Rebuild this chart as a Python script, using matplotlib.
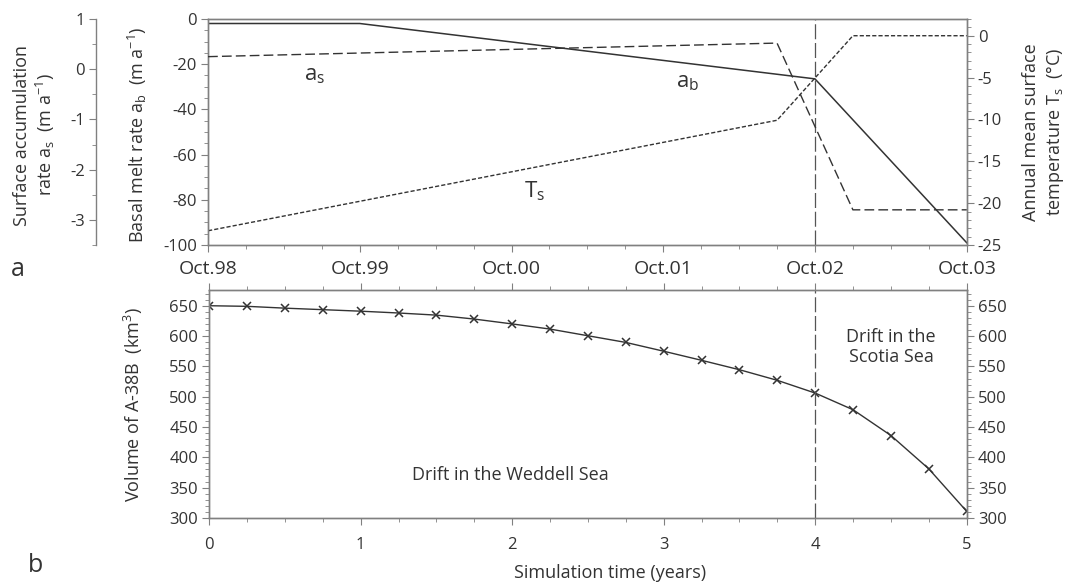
import matplotlib
matplotlib.use("Agg")
import matplotlib.pyplot as plt
from matplotlib.ticker import MultipleLocator
import numpy as np

plt.rcParams['font.family'] = ['Open Sans', 'DejaVu Sans']
plt.rcParams['axes.unicode_minus'] = False

# 1. Data
# top panel (years since Oct.98)
t_ab = [0, 1.0, 4.0, 5.0]
ab = [-2, -2, -26.5, -99]
t_as = [0, 3.75, 4.25, 5.0]
a_s = [0.25, 0.52, -2.8, -2.8]
t_ts = [0, 3.75, 4.25, 5.0]
ts = [-23.3, -10.1, 0, 0]
date_labels = ['Oct.98', 'Oct.99', 'Oct.00', 'Oct.01', 'Oct.02', 'Oct.03']

# bottom panel, quarterly steps
t_vol = [0, 0.25, 0.5, 0.75, 1.0, 1.25, 1.5, 1.75, 2.0, 2.25, 2.5,
         2.75, 3.0, 3.25, 3.5, 3.75, 4.0, 4.25, 4.5, 4.75, 5.0]
vol = [650, 649, 646, 643.5, 641, 638, 634.5, 628, 620, 611.5, 600.5,
       589.5, 575, 560, 544.5, 527, 506, 478.5, 436, 381, 311]
t_switch = 4.0

grey = '#808080'
ink = '#333333'

fig = plt.figure(figsize=(10.67, 5.84), dpi=100)

# 2. Top panel
ax_b = fig.add_axes([0.195, 0.5805, 0.711, 0.387])
ax_t = ax_b.twinx()
ax_s = ax_b.twinx()

ax_b.plot(t_ab, ab, color=ink, lw=1.1)
ax_s.plot(t_as, a_s, color=ink, lw=1.0, dashes=(7, 3))
ax_t.plot(t_ts, ts, color=ink, lw=1.0, dashes=(3, 1.5))
ax_b.axvline(t_switch, color='#555555', lw=0.9, dashes=(12, 3))

ax_b.set_xlim(0, 5)
ax_b.set_ylim(-100, 0)
ax_t.set_ylim(-25, 2)
ax_s.set_ylim(-3.5, 1)

ax_b.set_xticks(range(6))
ax_b.set_xticklabels(date_labels, fontsize=14, color=ink)
ax_b.xaxis.set_minor_locator(MultipleLocator(0.25))
ax_b.yaxis.set_major_locator(MultipleLocator(20))
ax_b.yaxis.set_minor_locator(MultipleLocator(5))
ax_t.yaxis.set_major_locator(MultipleLocator(5))
ax_t.yaxis.set_minor_locator(MultipleLocator(1))
ax_t.set_yticks([0, -5, -10, -15, -20, -25])
ax_s.set_yticks([1, 0, -1, -2, -3])
ax_s.yaxis.set_minor_locator(MultipleLocator(0.5))

ax_s.spines['left'].set_position(('axes', -0.1476))
ax_s.spines['left'].set_visible(True)
ax_s.yaxis.set_ticks_position('left')
ax_s.yaxis.set_label_position('left')
for name in ['right', 'top', 'bottom']:
    ax_s.spines[name].set_visible(False)

for a in [ax_b, ax_t, ax_s]:
    for sp in a.spines.values():
        sp.set_color(grey)
        sp.set_linewidth(1.0)
    a.tick_params(which='major', length=5, color=grey, labelcolor=ink,
                  labelsize=12, pad=3)
    a.tick_params(which='minor', length=3, color=grey)
ax_b.tick_params(axis='x', labelsize=14, pad=6)

ax_b.text(0.70, -25, r'$\mathregular{a_s}$', fontsize=16, color=ink,
          ha='center', va='center')
ax_b.text(3.16, -28, r'$\mathregular{a_b}$', fontsize=16, color=ink,
          ha='center', va='center')
ax_b.text(2.15, -76, r'$\mathregular{T_s}$', fontsize=16, color=ink,
          ha='center', va='center')

# 3. Bottom panel
ax_v = fig.add_axes([0.196, 0.113, 0.710, 0.3905])
ax_v2 = ax_v.twinx()
ax_v.plot(t_vol, vol, color=ink, lw=1.0, marker='x', ms=6, mew=1.1)
ax_v.axvline(t_switch, color='#555555', lw=0.9, dashes=(12, 3))
ax_v.set_xlim(0, 5)
ax_v.set_ylim(300, 676)
ax_v2.set_ylim(300, 676)
ax_v.xaxis.set_minor_locator(MultipleLocator(0.25))
ax_v.set_xticks(range(6))
for a in [ax_v, ax_v2]:
    a.set_yticks(range(300, 651, 50))
    a.yaxis.set_minor_locator(MultipleLocator(10))
    for sp in a.spines.values():
        sp.set_color(grey)
        sp.set_linewidth(1.0)
    a.tick_params(which='major', length=5, color=grey, labelcolor=ink,
                  labelsize=12, pad=3)
    a.tick_params(which='minor', length=3, color=grey)
ax_v.tick_params(axis='x', which='both', top=True)
ax_v.tick_params(axis='x', pad=9)

ax_v.text(1.99, 371, 'Drift in the Weddell Sea', fontsize=13, color=ink,
          ha='center', va='center')
ax_v.text(4.5, 582, 'Drift in the\nScotia Sea', fontsize=13, color=ink,
          ha='center', va='center', linespacing=1.1)

# 4. Axis labels and panel letters
fig.text(35 / 1067, 1 - 135 / 584,
         'Surface accumulation\n' + r'rate $\mathregular{a_s}$  (m $\mathregular{a^{-1}}$)',
         rotation=90, ha='center', va='center', fontsize=13, color=ink,
         linespacing=1.2)
fig.text(137 / 1067, 1 - 135 / 584,
         r'Basal melt rate $\mathregular{a_b}$  (m $\mathregular{a^{-1}}$)',
         rotation=90, ha='center', va='center', fontsize=13, color=ink)
fig.text(1044 / 1067, 1 - 132 / 584,
         'Annual mean surface\n' + r'temperature $\mathregular{T_s}$  (°C)',
         rotation=90, ha='center', va='center', fontsize=13, color=ink,
         linespacing=1.2)
fig.text(133 / 1067, 1 - 405 / 584,
         r'Volume of A-38B  (km$\mathregular{^3}$)',
         rotation=90, ha='center', va='center', fontsize=13, color=ink)
fig.text(610 / 1067, 1 - 573 / 584, 'Simulation time (years)',
         ha='center', va='center', fontsize=13, color=ink)
fig.text(18 / 1067, 1 - 270 / 584, 'a', ha='center', va='center',
         fontsize=18, color=ink)
fig.text(36 / 1067, 1 - 566 / 584, 'b', ha='center', va='center',
         fontsize=18, color=ink)

fig.savefig('out.png', dpi=100)
